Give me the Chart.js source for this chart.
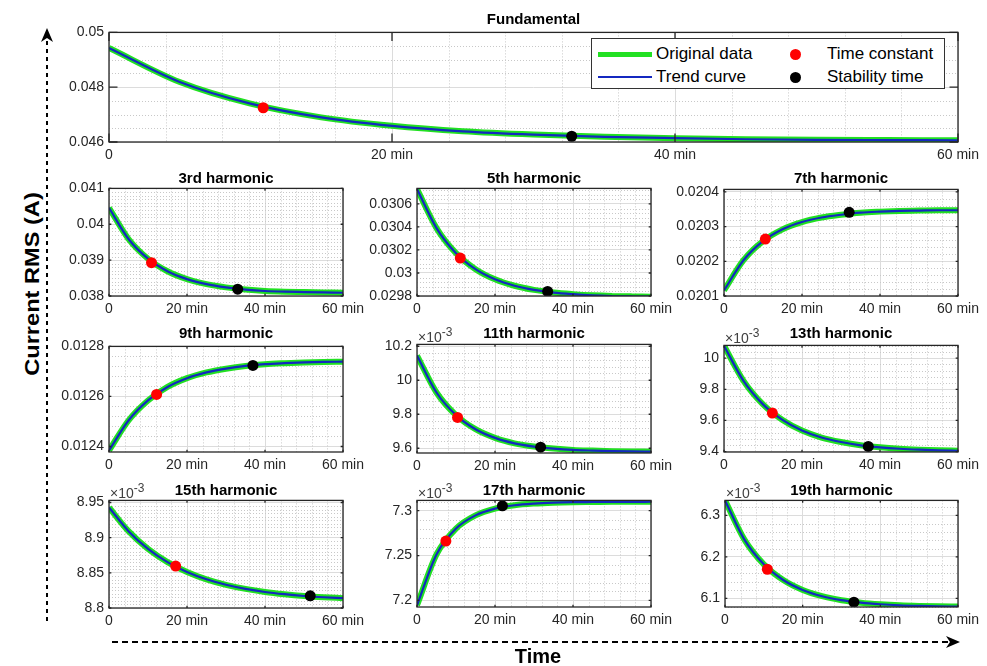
<!DOCTYPE html>
<html lang="en">
<head>
<meta charset="UTF-8">
<title>Current RMS – fundamental and harmonics</title>
<script src="https://cdn.jsdelivr.net/npm/chart.js"></script>
<style>
  body { margin: 0; background: #fff; font-family: "Liberation Sans", Arial, sans-serif; }
  #page { position: relative; width: 987px; height: 666px; overflow: hidden; background: #fff; }
  #page canvas { position: absolute; }
  .title { position: absolute; font-weight: bold; font-size: 15px; color: #000; text-align: center; line-height: 18px; white-space: nowrap; }
  .exp { position: absolute; font-size: 14px; color: #404040; line-height: 15px; white-space: nowrap; }
  .exp sup { font-size: 12px; vertical-align: 6px; }
  #legend { position: absolute; left: 591px; top: 38px; width: 352px; height: 49px; background: #fff; border: 1px solid #333; }
  #legend .ln { position: absolute; left: 6px; width: 54px; }
  #legend .dot { position: absolute; left: 198px; width: 11px; height: 11px; border-radius: 50%; }
  #legend .txt { position: absolute; font-size: 17px; line-height: 20px; color: #000; white-space: nowrap; }
  #ylab { position: absolute; left: 32px; top: 284px; font-weight: bold; font-size: 20px; white-space: nowrap;
          transform: translate(-50%, -50%) rotate(-90deg) scaleX(1.18); }
  #xlab { position: absolute; left: 538px; top: 656px; font-weight: bold; font-size: 20px; transform: translate(-50%, -50%); }
  svg { position: absolute; left: 0; top: 0; pointer-events: none; }
</style>
</head>
<body>
<div id="page"></div>

<script>
  // time axis (minutes)
  const minutes = [0, 5, 10, 15, 20, 25, 30, 35, 40, 45, 50, 55, 60];

  // current RMS values (A) read at every 5 min
  const fundamental = [0.04943, 0.04819, 0.04740, 0.04690, 0.04659, 0.04639, 0.04627, 0.04619, 0.04614, 0.04610, 0.04608, 0.04607, 0.04606];
  const h3  = [0.04046, 0.03959, 0.03904, 0.03869, 0.03847, 0.03833, 0.03824, 0.03818, 0.03814, 0.03812, 0.03811, 0.03810, 0.03809];
  const h5  = [0.03073, 0.03039, 0.030172, 0.030033, 0.029945, 0.029889, 0.029853, 0.02983, 0.029816, 0.029806, 0.0298, 0.029797, 0.029794];
  const h7  = [0.020116, 0.020203, 0.020258, 0.020292, 0.020313, 0.020326, 0.020334, 0.020340, 0.020343, 0.020345, 0.020346, 0.020347, 0.020347];
  const h9  = [0.012384, 0.012504, 0.012584, 0.012638, 0.012673, 0.012696, 0.012711, 0.012722, 0.012729, 0.012733, 0.012736, 0.012738, 0.012739];
  const h11 = [0.010145, 0.009928, 0.009795, 0.009712, 0.009661, 0.009629, 0.009610, 0.009598, 0.009590, 0.009586, 0.009583, 0.009581, 0.009580];
  const h13 = [0.010080, 0.009854, 0.009703, 0.009603, 0.009535, 0.009490, 0.009461, 0.009440, 0.009427, 0.009418, 0.009412, 0.009408, 0.009405];
  const h15 = [0.008943, 0.0089093, 0.0088841, 0.0088653, 0.0088513, 0.0088408, 0.008833, 0.0088272, 0.0088228, 0.0088196, 0.0088171, 0.0088153, 0.008814];
  const h17 = [0.0071946, 0.0072513, 0.0072801, 0.0072948, 0.0073023, 0.0073061, 0.007308, 0.007309, 0.0073095, 0.0073097, 0.0073099, 0.0073099, 0.00731];
  const h19 = [0.006336, 0.0062414, 0.0061818, 0.006144, 0.0061201, 0.006105, 0.0060954, 0.0060894, 0.0060856, 0.0060831, 0.0060816, 0.0060806, 0.0060801];

  const titles = ['Fundamental', '3rd harmonic', '5th harmonic', '7th harmonic', '9th harmonic',
                  '11th harmonic', '13th harmonic', '15th harmonic', '17th harmonic', '19th harmonic'];

  // time constant / stability time markers
  const tauMin  = [10.9, 10.9, 11.1, 10.6, 12.2, 10.4, 12.4, 17.1, 7.4, 10.9];
  const tauVal  = [0.04725, 0.03893, 0.03013, 0.020264, 0.012608, 0.009781, 0.009647, 0.0088596, 0.0072662, 0.006170];
  const stabMin = [32.7, 33.0, 33.5, 32.1, 36.9, 31.7, 37.0, 51.6, 21.9, 33.2];
  const stabVal = [0.04621, 0.03819, 0.02984, 0.020341, 0.012724, 0.009606, 0.009433, 0.0088173, 0.0073054, 0.0060907];

  // y axis ticks and limits
  const yTicks = [
    [0.046, 0.048, 0.05],
    [0.038, 0.039, 0.04, 0.041],
    [0.0298, 0.03, 0.0302, 0.0304, 0.0306],
    [0.0201, 0.0202, 0.0203, 0.0204],
    [0.0124, 0.0126, 0.0128],
    [0.0096, 0.0098, 0.01, 0.0102],
    [0.0094, 0.0096, 0.0098, 0.01],
    [0.0088, 0.00885, 0.0089, 0.00895],
    [0.0072, 0.00725, 0.0073],
    [0.0061, 0.0062, 0.0063]
  ];
  const yMin = [0.046, 0.038, 0.0298, 0.0201, 0.012378, 0.009572, 0.009397, 0.0088, 0.0071927, 0.006079];
  const yMax = [0.05, 0.041, 0.030735, 0.020407, 0.0128, 0.010211, 0.010082, 0.008953, 0.0073115, 0.006336];
  const yMinorStep = [0.0005, 0.0001, 0.00004, 0.00002, 0.00004, 0.00004, 0.00004, 0.000005, 0.00001, 0.00002];
  const xTicks = [0, 20, 40, 60];

  const series = [fundamental, h3, h5, h7, h9, h11, h13, h15, h17, h19];
  const scaled = [false, false, false, false, false, true, true, true, true, true];

  // plot area of each panel on the page
  const boxes = [
    { x: 109, y: 29,  w: 849, h: 113 },
    { x: 109, y: 185, w: 234, h: 111 },
    { x: 417, y: 185, w: 234, h: 111 },
    { x: 724, y: 186, w: 234, h: 110 },
    { x: 109, y: 343, w: 234, h: 109 },
    { x: 417, y: 341, w: 234, h: 112 },
    { x: 724, y: 342, w: 234, h: 110 },
    { x: 109, y: 497, w: 234, h: 111 },
    { x: 417, y: 497, w: 234, h: 110 },
    { x: 725, y: 497, w: 233, h: 110 }
  ];
  const titleY = [19, 178, 178, 178, 333, 333, 333, 490, 490, 490];

  const L = 62, T = 10, R = 32, B = 26;
  const tickFont = { family: '"Liberation Sans", Arial, sans-serif', size: 14 };
  const tickColor = '#262626';

  // minor dotted grid, box and inward tick marks like MATLAB axes
  const matlabAxes = {
    id: 'matlabAxes',
    beforeDatasetsDraw(chart, args, opts) {
      const { ctx, chartArea: a, scales: { x, y } } = chart;
      ctx.save();
      ctx.strokeStyle = '#c8c8c8';
      ctx.lineWidth = 1;
      ctx.setLineDash([1, 2]);
      ctx.beginPath();
      for (let v = 4; v < 60; v += 4) {
        if (v % 20 === 0) continue;
        const px = Math.round(x.getPixelForValue(v)) + 0.5;
        ctx.moveTo(px, a.top); ctx.lineTo(px, a.bottom);
      }
      const s = opts.yMinor;
      for (let k = Math.ceil(y.min / s - 1e-6); k * s <= y.max + 1e-12; k++) {
        const v = k * s;
        if (opts.yTicks.some(t => Math.abs(t - v) < s * 0.01)) continue;
        const py = Math.round(y.getPixelForValue(v)) + 0.5;
        ctx.moveTo(a.left, py); ctx.lineTo(a.right, py);
      }
      ctx.stroke();
      ctx.restore();
    },
    afterDatasetsDraw(chart, args, opts) {
      const { ctx, chartArea: a, scales: { x, y } } = chart;
      const tl = 0.01 * Math.max(a.width, a.height);
      ctx.save();
      ctx.strokeStyle = '#262626';
      ctx.lineWidth = 1.3;
      ctx.beginPath();
      xTicks.forEach(v => {
        const px = x.getPixelForValue(v);
        ctx.moveTo(px, a.bottom); ctx.lineTo(px, a.bottom - tl);
        ctx.moveTo(px, a.top); ctx.lineTo(px, a.top + tl);
      });
      opts.yTicks.forEach(v => {
        const py = y.getPixelForValue(v);
        ctx.moveTo(a.left, py); ctx.lineTo(a.left + tl, py);
        ctx.moveTo(a.right, py); ctx.lineTo(a.right - tl, py);
      });
      ctx.stroke();
      ctx.strokeRect(a.left, a.top, a.width, a.height);
      ctx.restore();
    }
  };

  const page = document.getElementById('page');

  function fmt(v, sc) {
    if (sc) return String(parseFloat((v * 1000).toFixed(4)));
    return String(parseFloat(v.toPrecision(6)));
  }

  boxes.forEach((b, i) => {
    const cv = document.createElement('canvas');
    const cw = b.w + L + R, ch = b.h + T + B;
    cv.width = cw; cv.height = ch;
    cv.style.width = cw + 'px'; cv.style.height = ch + 'px';
    cv.style.left = (b.x - L) + 'px'; cv.style.top = (b.y - T) + 'px';
    page.appendChild(cv);

    const pts = minutes.map((t, k) => ({ x: t, y: series[i][k] }));

    new Chart(cv.getContext('2d'), {
      type: 'line',
      data: {
        datasets: [
          { label: 'Stability time', data: [{ x: stabMin[i], y: stabVal[i] }], showLine: false,
            pointRadius: 5.5, pointBackgroundColor: '#000', pointBorderWidth: 0, order: 0 },
          { label: 'Time constant', data: [{ x: tauMin[i], y: tauVal[i] }], showLine: false,
            pointRadius: 5.5, pointBackgroundColor: '#ff0000', pointBorderWidth: 0, order: 1 },
          { label: 'Trend curve', data: pts, borderColor: '#1428c0', borderWidth: 2.2,
            pointRadius: 0, cubicInterpolationMode: 'monotone', order: 2 },
          { label: 'Original data', data: pts, borderColor: '#22e022', borderWidth: 6,
            pointRadius: 0, cubicInterpolationMode: 'monotone', order: 3 }
        ]
      },
      options: {
        responsive: false,
        animation: false,
        events: [],
        layout: { padding: { left: 0, top: T, right: R, bottom: 0 } },
        plugins: {
          legend: { display: false },
          tooltip: { enabled: false },
          matlabAxes: { yMinor: yMinorStep[i], yTicks: yTicks[i] }
        },
        scales: {
          x: {
            type: 'linear', min: 0, max: 60,
            afterBuildTicks: s => { s.ticks = xTicks.map(v => ({ value: v })); },
            afterFit: s => { s.height = B; },
            grid: { color: '#dcdcdc', drawTicks: false },
            border: { display: false },
            ticks: { font: tickFont, color: tickColor, padding: 5, maxRotation: 0, autoSkip: false,
                     callback: v => v === 0 ? '0' : v + ' min' }
          },
          y: {
            type: 'linear', min: yMin[i], max: yMax[i],
            afterBuildTicks: s => { s.ticks = yTicks[i].map(v => ({ value: v })); },
            afterFit: s => { s.width = L; },
            grid: { color: '#dcdcdc', drawTicks: false },
            border: { display: false },
            ticks: { font: tickFont, color: tickColor, padding: 5, autoSkip: false,
                     callback: v => fmt(v, scaled[i]) }
          }
        }
      },
      plugins: [matlabAxes]
    });

    const t = document.createElement('div');
    t.className = 'title';
    t.textContent = titles[i];
    t.style.left = b.x + 'px';
    t.style.width = b.w + 'px';
    t.style.top = (titleY[i] - 9) + 'px';
    page.appendChild(t);

    if (scaled[i]) {
      const e = document.createElement('div');
      e.className = 'exp';
      e.innerHTML = '\u00d710<sup>-3</sup>';
      e.style.left = (b.x + 1) + 'px';
      e.style.top = (b.y - 16) + 'px';
      page.appendChild(e);
    }
  });

  // legend of the fundamental panel
  page.insertAdjacentHTML('beforeend', `
    <div id="legend">
      <div class="ln" style="top:13px;height:5px;background:#22e022"></div>
      <div class="txt" style="left:64px;top:5px">Original data</div>
      <div class="ln" style="top:37px;height:2px;background:#1428c0"></div>
      <div class="txt" style="left:64px;top:28px">Trend curve</div>
      <div class="dot" style="top:10px;background:#ff0000"></div>
      <div class="txt" style="left:235px;top:5px">Time constant</div>
      <div class="dot" style="top:33px;background:#000"></div>
      <div class="txt" style="left:235px;top:28px">Stability time</div>
    </div>
    <div id="ylab">Current RMS (A)</div>
    <div id="xlab">Time</div>
    <svg width="987" height="666">
      <line x1="47" y1="621" x2="47" y2="40" stroke="#000" stroke-width="2" stroke-dasharray="4 4"/>
      <path d="M47,28 L41,42 L47,38 L53,42 Z" fill="#000"/>
      <line x1="112" y1="642" x2="948" y2="642" stroke="#000" stroke-width="2" stroke-dasharray="6 4"/>
      <path d="M960,642 L946,636 L950,642 L946,648 Z" fill="#000"/>
    </svg>
  `);
</script>
</body>
</html>
